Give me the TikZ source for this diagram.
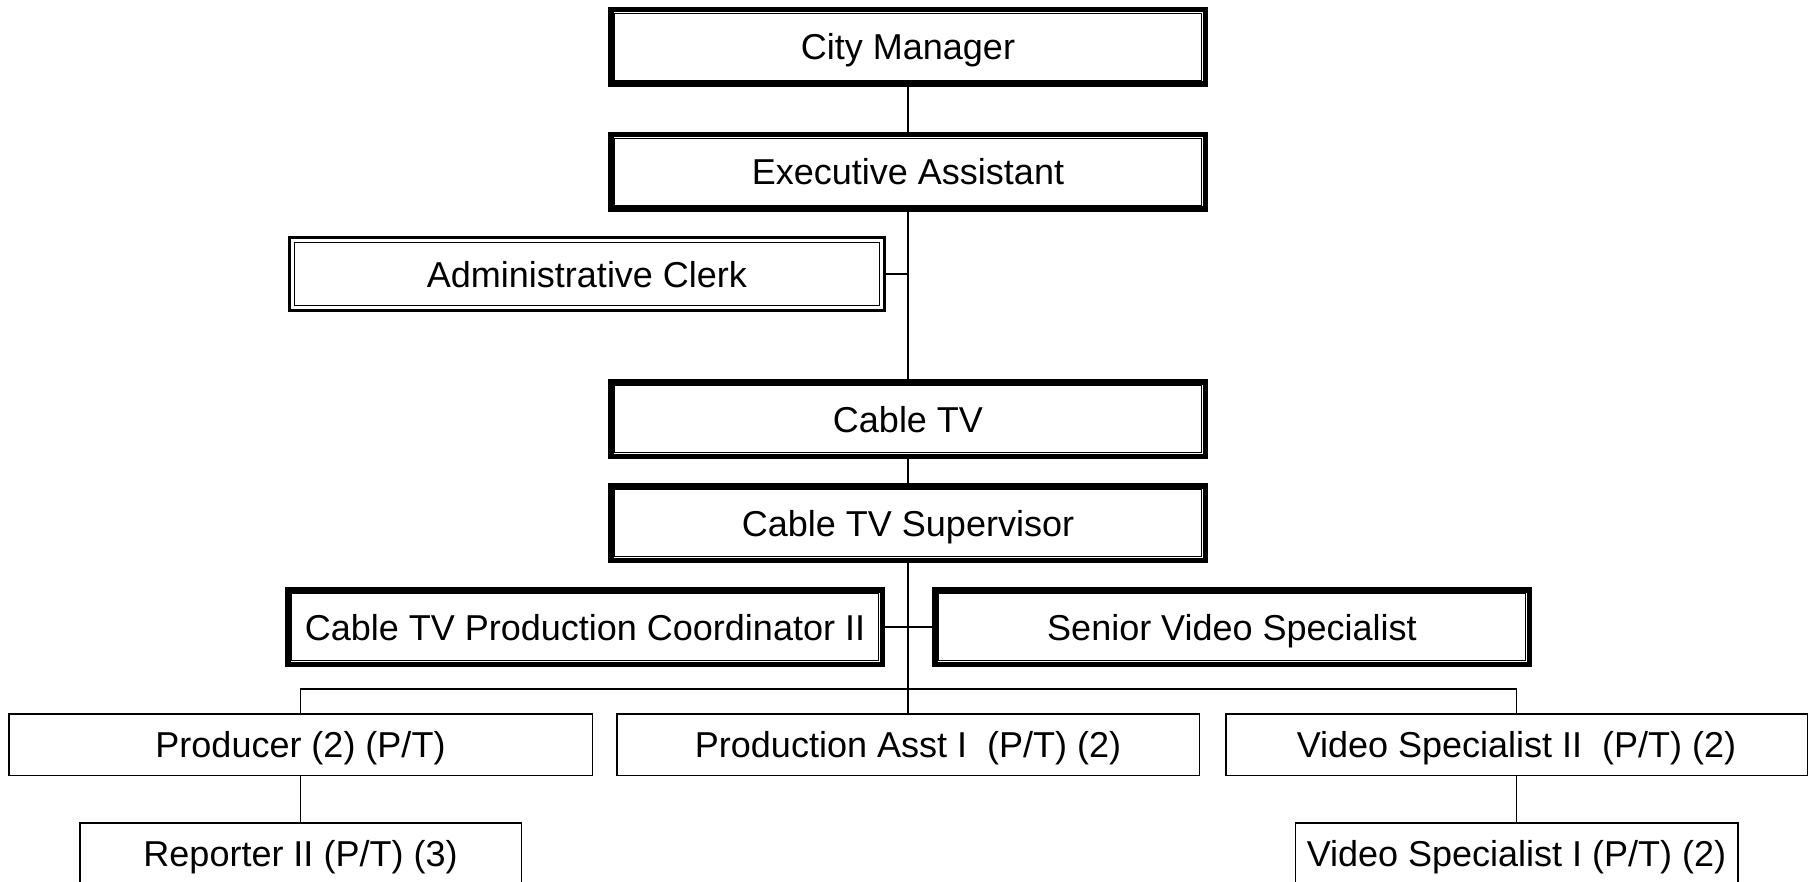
\documentclass[tikz,border=0pt]{standalone}
\usepackage{fontspec}
\setmainfont{Liberation Sans}
\begin{document}
\begin{tikzpicture}[
  x=0.5pt, y=-0.5pt,
  every node/.style={font=\fontsize{18pt}{20pt}\selectfont, inner sep=0pt, align=center,
                     text height=13pt, text depth=0pt},
  heavy/.style={draw, rectangle, line width=2.75pt, minimum width=297.25pt, minimum height=37.25pt},
  clerkbox/.style={draw, rectangle, line width=1.5pt, minimum width=297.5pt, minimum height=36.5pt},
  leaf/.style={draw, rectangle, line width=0.75pt, minimum height=30.75pt},
  link/.style={line width=0.65pt},
  frame/.style={line width=0.5pt}
]
\useasboundingbox (0,0) rectangle (1815,882);
\clip (0,0) rectangle (1815,882);

% management chain
\node[heavy]    (cm)    at (908,47)  {City Manager};
\node[heavy]    (ea)    at (908,172) {Executive Assistant};
\node[clerkbox] (ac)    at (587,274) {Administrative Clerk};
\node[heavy]    (ctv)   at (908,419) {Cable TV};
\node[heavy]    (sup)   at (908,523) {Cable TV Supervisor};
\node[heavy]    (coord) at (585,627) {Cable TV Production Coordinator II};
\node[heavy]    (svs)   at (1232,627) {Senior Video Specialist};

% part-time staff
\node[leaf, minimum width=291.75pt] (prod) at (300.5,744.5) {Producer (2) (P/T)};
\node[leaf, minimum width=291.25pt] (pa)   at (908,744.5)   {Production Asst I\ \ (P/T) (2)};
\node[leaf, minimum width=290.75pt] (vs2)  at (1516.5,744.5) {Video Specialist II\ \ (P/T) (2)};
\node[leaf, minimum width=220.75pt] (rep)  at (300.5,853.5) {Reporter II (P/T) (3)};
\node[leaf, minimum width=221.25pt] (vs1)  at (1516.5,853.5) {Video Specialist I (P/T) (2)};

% inner rules of the double frames
\foreach \n in {cm,ea,ctv,sup,coord,svs}
  \draw[frame] ([shift={(3.125pt,-3.125pt)}]\n.north west) rectangle ([shift={(-3.125pt,3.125pt)}]\n.south east);
\draw[frame] ([shift={(3.25pt,-3.25pt)}]ac.north west) rectangle ([shift={(-3.25pt,3.25pt)}]ac.south east);

% reporting lines
\draw[link] (cm.south) -- (ea.north);
\draw[link] (ea.south) -- (ctv.north);
\draw[link] (ac.east) -- (ac.east -| ea.south);
\draw[link] (ctv.south) -- (sup.north);
\draw[link] (sup.south) -- (pa.north);
\draw[link] (coord.east) -- (svs.west);
\draw[link] (prod.north) -- ++(0,-24) -| (vs2.north);
\draw[link] (prod.south) -- (rep.north);
\draw[link] (vs2.south) -- (vs1.north);
\end{tikzpicture}
\end{document}
